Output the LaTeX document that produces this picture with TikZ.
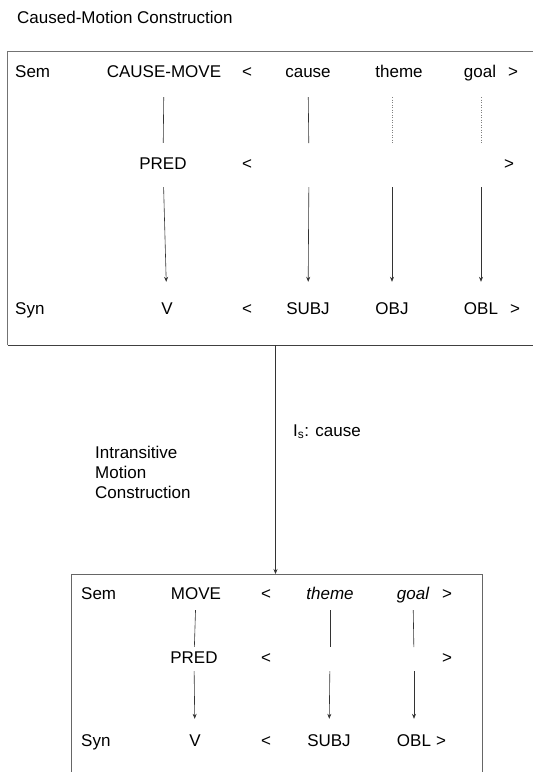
\documentclass[tikz,border=0pt]{standalone}
\usepackage{fontspec}
\setmainfont{Liberation Sans}
\usetikzlibrary{arrows.meta}
\begin{document}
\begin{tikzpicture}[x=1pt,y=-1pt,
	lbl/.style={inner sep=0pt,text height=12pt,text depth=4pt,font=\fontsize{17}{20}\selectfont},
	seg/.style 2 args={draw=black!80,line width=0.6pt,shorten <=#1,shorten >=#2},
	arr/.style 2 args={seg={#1}{#2},-{Stealth[length=5pt,width=4pt]}},
	dots/.style 2 args={draw=gray,dotted,line width=0.5pt,shorten <=#1,shorten >=#2}]
	\useasboundingbox (0,0) rectangle (533,772);
	% caused-motion construction
	\node[lbl,anchor=west] (title) at (17,19) {Caused-Motion Construction};
	\draw[black!55,line width=1pt] (533,51) -- (7.5,51) -- (7.5,345);
	\draw[black!75,line width=0.8pt] (7.5,345) -- (533,345);
	\node[lbl,anchor=west] (sem) at (15,73) {Sem};
	\node[lbl] (cmove) at (164,73) {CAUSE-MOVE};
	\node[lbl] (semlt) at (247,73) {<};
	\node[lbl] (cause) at (308,73) {cause};
	\node[lbl] (theme) at (399,73) {theme};
	\node[lbl] (goal) at (480,73) {goal};
	\node[lbl] (semgt) at (513,73) {>};
	\node[lbl] (pred) at (163,165) {PRED};
	\node[lbl] (predlt) at (247,165) {<};
	\node[lbl] (predgt) at (509,165) {>};
	\coordinate (pcause) at (309,163);
	\coordinate (ptheme) at (392,163);
	\coordinate (pgoal) at (481,163);
	\node[lbl,anchor=west] (syn) at (15,310) {Syn};
	\node[lbl] (v) at (167,310) {V};
	\node[lbl] (synlt) at (247,310) {<};
	\node[lbl] (subj) at (308,310) {SUBJ};
	\node[lbl] (obj) at (392,310) {OBJ};
	\node[lbl] (obl) at (481,310) {OBL};
	\node[lbl] (syngt) at (515,310) {>};
	\draw[seg={16pt}{14pt}] (cmove) -- (pred);
	\draw[seg={16pt}{20pt}] (cause) -- (pcause);
	\draw[dots={24pt}{20pt}] (ptheme |- theme) -- (ptheme);
	\draw[dots={24pt}{20pt}] (pgoal |- goal) -- (pgoal);
	\draw[arr={14pt}{20pt}] (pred) -- (v);
	\draw[arr={24pt}{20pt}] (pcause) -- (subj);
	\draw[arr={24pt}{20pt}] (ptheme) -- (obj);
	\draw[arr={24pt}{20pt}] (pgoal) -- (obl);
	% inheritance link
	\coordinate (cmbox) at (275.5,345);
	\coordinate (imbox) at (275.5,574);
	\draw[arr={0pt}{0pt}] (cmbox) -- (imbox);
	\node[lbl,anchor=west] (islink) at (293,432) {I\textsubscript{s}: cause};
	\node[inner sep=0pt,align=left,anchor=west,font=\fontsize{17}{20}\selectfont] (imname) at (95,472) {Intransitive\\Motion\\Construction};
	% intransitive motion construction
	\draw[black!60,line width=0.8pt] (71,780) -- (71,574) -- (482,574) -- (482,780);
	\node[lbl,anchor=west] (isem) at (81,595) {Sem};
	\node[lbl] (move) at (196,595) {MOVE};
	\node[lbl] (isemlt) at (266,595) {<};
	\node[lbl,font=\fontsize{17}{20}\selectfont\itshape] (itheme) at (330,595) {theme};
	\node[lbl,font=\fontsize{17}{20}\selectfont\itshape] (igoal) at (413,595) {goal};
	\node[lbl] (isemgt) at (447,595) {>};
	\node[lbl] (ipred) at (194,659) {PRED};
	\node[lbl] (ipredlt) at (266,659) {<};
	\node[lbl] (ipredgt) at (447,659) {>};
	\coordinate (ptheme2) at (330,657);
	\coordinate (pgoal2) at (414,657);
	\node[lbl,anchor=west] (isyn) at (81,742) {Syn};
	\node[lbl] (iv) at (195,742) {V};
	\node[lbl] (isynlt) at (266,742) {<};
	\node[lbl] (isubj) at (329,742) {SUBJ};
	\node[lbl] (iobl) at (414,742) {OBL};
	\node[lbl] (isyngt) at (441,742) {>};
	\draw[seg={7pt}{4pt}] (move) -- (ipred);
	\draw[seg={7pt}{10pt}] (itheme) -- (ptheme2);
	\draw[seg={7pt}{10pt}] (igoal) -- (pgoal2);
	\draw[arr={4pt}{15pt}] (ipred) -- (iv);
	\draw[arr={14pt}{15pt}] (ptheme2) -- (isubj);
	\draw[arr={14pt}{15pt}] (pgoal2) -- (iobl);
\end{tikzpicture}
\end{document}
